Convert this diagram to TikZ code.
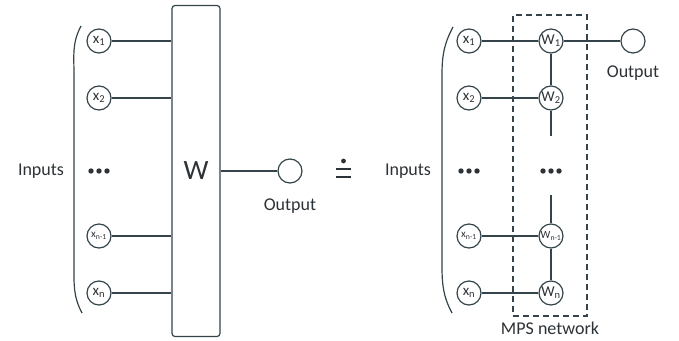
\documentclass[tikz,border=0pt]{standalone}
\usepackage{fontspec}
\setmainfont{Carlito}
\definecolor{ln}{RGB}{52,68,74}
\definecolor{tx}{RGB}{45,50,54}
\tikzset{
  line/.style={draw=ln, line width=1.2pt},
  unit/.style={circle, draw=ln, line width=1.2pt, minimum size=24pt, inner sep=0pt, text=tx, font=\fontsize{15}{15}\selectfont},
  unitsm/.style={unit, font=\fontsize{11}{11}\selectfont},
  lbl/.style={text=tx, font=\fontsize{18}{18}\selectfont, inner sep=0pt},
  paren/.style={draw=ln, line width=1.2pt},
  dotsmark/.style={fill=tx, draw=none}
}
\begin{document}
\begin{tikzpicture}[x=1pt, y=-1pt]
\useasboundingbox (0,0) rectangle (679,340);
% ---------- left part ----------
\node[lbl] (inL) at (41,171) {Inputs};
\draw[paren] (81,26) to[out=-118,in=90] (74,75) -- (74,265) to[out=-90,in=118] (82,313);
\node[unit] (x1) at (99,41) {x\textsubscript{1}};
\node[unit] (x2) at (99,98) {x\textsubscript{2}};
\node[unitsm] (xn1) at (99,236) {x\textsubscript{n-1}};
\node[unit] (xn) at (99,293) {x\textsubscript{n}};
\foreach \dx in {-8,0,8} \fill[dotsmark] (99+\dx,171) circle (2.7pt);
\node[draw=ln, line width=1.2pt, rounded corners=3pt, minimum width=48pt, minimum height=331pt, inner sep=0pt, text=tx, font=\fontsize{28}{28}\selectfont] (W) at (196,171) {W};
\foreach \n in {x1,x2,xn1,xn} \draw[line] (\n) -- (\n -| W.west);
\node[unit] (outL) at (290,171) {};
\draw[line] (W.east |- outL) -- (outL);
\node[lbl, anchor=north] (outLl) at (290,199) {Output};
% ---------- equality sign (drawn) ----------
\draw[draw=tx, line width=2.4pt] (336,169) -- (351,169);
\draw[draw=tx, line width=2.4pt] (336,177) -- (351,177);
\fill[tx] (343.5,161) circle (2.4pt);
% ---------- right part ----------
\node[lbl] (inR) at (408,171) {Inputs};
\draw[paren] (453,27) to[out=-118,in=90] (442,75) -- (442,265) to[out=-90,in=118] (452,313);
\node[unit] (r1) at (469,41) {x\textsubscript{1}};
\node[unit] (r2) at (469,98) {x\textsubscript{2}};
\node[unitsm] (rn1) at (469,236) {x\textsubscript{n-1}};
\node[unit] (rn) at (469,293) {x\textsubscript{n}};
\foreach \dx in {-8,0,8} \fill[dotsmark] (469+\dx,171) circle (2.7pt);
\node[unit] (w1) at (551,41) {W\textsubscript{1}};
\node[unit] (w2) at (551,98) {W\textsubscript{2}};
\node[unitsm] (wn1) at (551,236) {W\textsubscript{n-1}};
\node[unit] (wn) at (551,293) {W\textsubscript{n}};
\foreach \dx in {-8,0,8} \fill[dotsmark] (551+\dx,171) circle (2.7pt);
\coordinate (ca) at (551,136);
\coordinate (cb) at (551,195);
\draw[line] (r1) -- (w1);
\draw[line] (r2) -- (w2);
\draw[line] (rn1) -- (wn1);
\draw[line] (rn) -- (wn);
\draw[line] (w1) -- (w2);
\draw[line] (w2) -- (ca);
\draw[line] (cb) -- (wn1);
\draw[line] (wn1) -- (wn);
\node[unit] (outR) at (633,41) {};
\draw[line] (w1) -- (outR);
\node[lbl, anchor=north] (outRl) at (633,66) {Output};
\node[draw=ln, line width=1.2pt, dash pattern=on 6pt off 4pt, minimum width=74pt, minimum height=301pt, inner sep=0pt] (mps) at (550,165.5) {};
\node[lbl, anchor=north] (mpsl) at (mps.south) [yshift=-5pt] {MPS network};
\end{tikzpicture}
\end{document}
